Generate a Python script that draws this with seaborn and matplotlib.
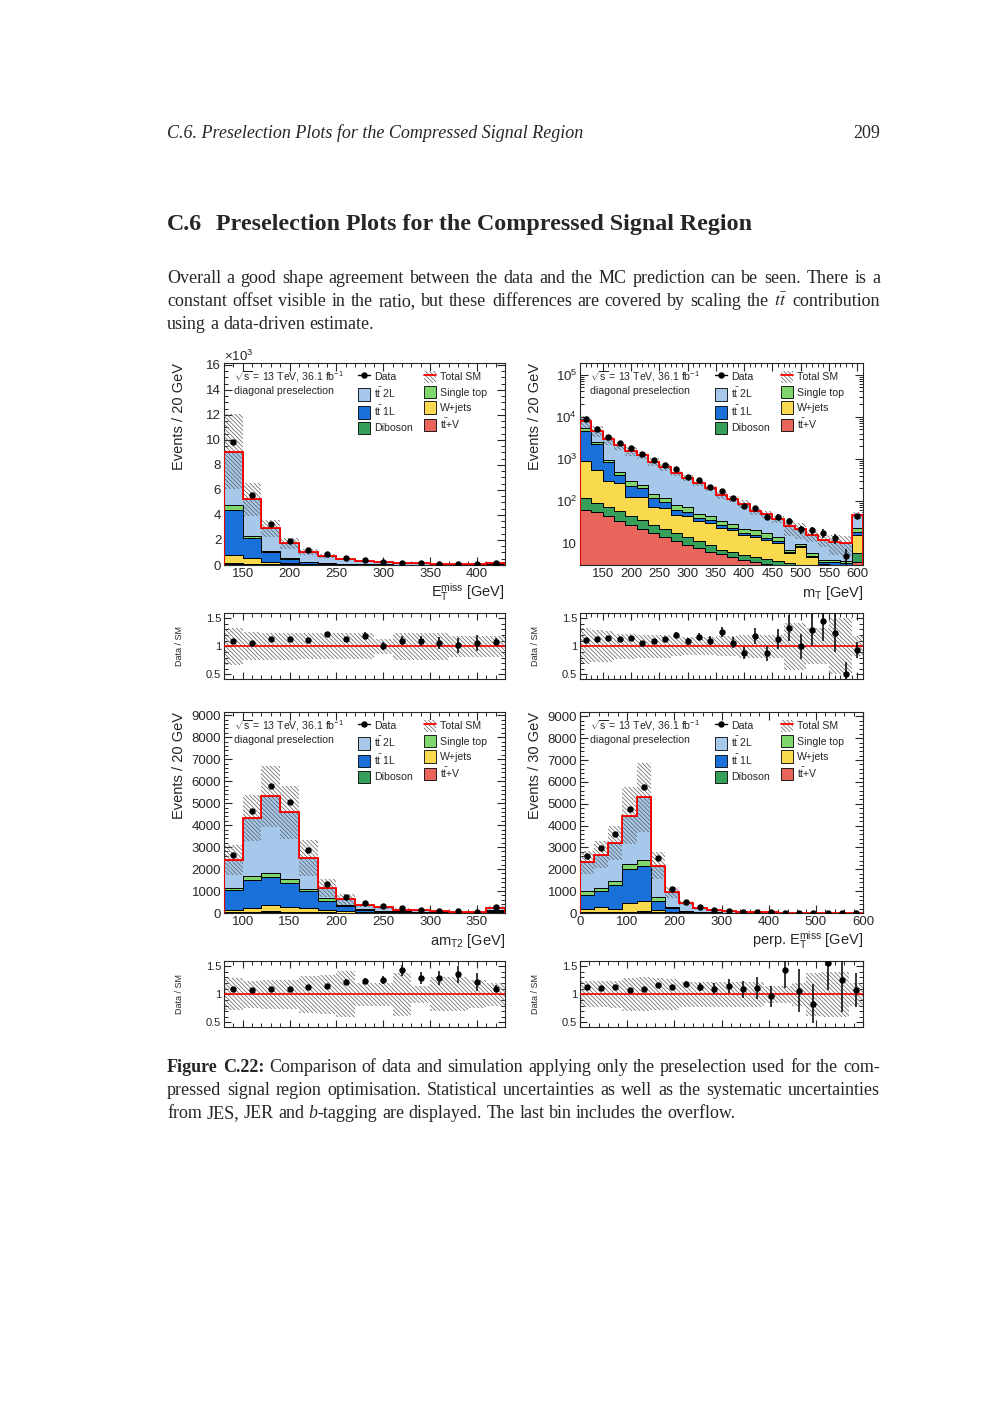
import numpy as np
import pandas as pd
import matplotlib
matplotlib.use("Agg")
import matplotlib.pyplot as plt
import seaborn as sns
from matplotlib.lines import Line2D
from matplotlib.patches import Patch
from matplotlib.transforms import IdentityTransform
from matplotlib.ticker import MultipleLocator, LogLocator, FuncFormatter, NullFormatter

# stack order: first entry on top (seaborn puts the last hue level at the bottom)
samples = ["ttbar2L", "singletop", "ttbar1L", "wjets", "diboson", "ttV"]
sample_labels = {
    "ttbar2L": r"$t\bar{t}$ 2L",
    "singletop": "Single top",
    "ttbar1L": r"$t\bar{t}$ 1L",
    "wjets": "W+jets",
    "diboson": "Diboson",
    "ttV": r"$t\bar{t}$+V",
}
sample_colors = {
    "ttbar2L": "#a6c8ea",
    "singletop": "#7fd66c",
    "ttbar1L": "#1870d8",
    "wjets": "#f9da4e",
    "diboson": "#36a05a",
    "ttV": "#e8655c",
}

# ---- E_T^miss ----
met_edges = np.arange(130, 431, 20)
met_data = [9865, 5565, 3300, 1944, 1187, 847, 538, 393, 222, 176, 131, 95, 61, 53, 194]
met_ttV = [40, 30, 20, 15, 10, 8, 6, 5, 4, 3, 3, 2, 2, 1, 5]
met_diboson = [80, 60, 40, 30, 20, 15, 10, 8, 6, 5, 4, 3, 2, 2, 8]
met_wjets = [700, 450, 160, 80, 50, 30, 20, 15, 10, 8, 6, 5, 4, 3, 12]
met_ttbar1L = [3600, 1600, 800, 350, 150, 80, 50, 30, 20, 12, 8, 6, 4, 3, 12]
met_singletop = [400, 150, 80, 50, 30, 20, 15, 10, 8, 6, 5, 4, 3, 2, 10]
met_ttbar2L = [4230, 2960, 1820, 1195, 800, 547, 379, 262, 172, 126, 94, 70, 45, 39, 133]
met_unc = [0.33, 0.25, 0.24, 0.24, 0.23, 0.23, 0.23, 0.23, 0.13, 0.24, 0.24, 0.24, 0.19, 0.19, 0.19]

# ---- m_T ----
mt_edges = np.arange(110, 611, 20)
mt_data = [8950, 5170, 3400, 2360, 1770, 1320, 950, 720, 566, 380, 316, 220, 173, 120,
           76, 69, 42, 42, 33, 21, 20, 17, 13, 5, 43]
mt_ttV = [62, 55, 45, 34, 27, 22, 17, 14, 11, 9, 7.5, 6.2, 5.4, 4.6, 4.0, 3.5, 3.1, 2.7,
          2.4, 2.1, 1.8, 1.6, 1.4, 1.2, 3.5]
mt_diboson = [58, 35, 27, 23, 17, 14, 10, 7, 6, 5, 3.5, 2.8, 1.6, 1.4, 1.2, 1.1, 1.1, 1.1,
              1.0, 0.9, 0.8, 0.8, 0.8, 0.8, 2.3]
mt_wjets = [770, 460, 218, 203, 82, 86, 46, 47, 30, 30, 22, 21, 16, 14, 10.3, 9.4, 7.8, 6.2,
            2.4, 5.2, 2.1, 0.8, 0.6, 0.6, 9.7]
mt_ttbar1L = [3810, 1750, 570, 160, 104, 78, 47, 27, 15, 12, 7, 5, 4, 3, 1.5, 1.5, 1, 1,
              0.4, 0.4, 0.3, 0.3, 0.7, 0.7, 3.1]
mt_singletop = [700, 200, 100, 70, 60, 45, 30, 23, 16, 14, 10, 8, 6, 5, 5, 4.5, 4, 3,
                0.8, 0.9, 0.8, 0.5, 0.4, 0.4, 4.4]
mt_ttbar2L = [2700, 2100, 2020, 1610, 1250, 1000, 715, 522, 392, 280, 220, 157, 105, 85,
              64, 38, 31, 23, 18, 11.5, 9.7, 7.7, 6.6, 6.3, 23]
mt_unc = [0.32, 0.28, 0.27, 0.22, 0.22, 0.2, 0.2, 0.2, 0.18, 0.16, 0.16, 0.16, 0.18, 0.18,
          0.2, 0.2, 0.2, 0.2, 0.42, 0.42, 0.32, 0.32, 0.5, 0.5, 0.18]

# ---- am_T2 ----
amt2_edges = np.arange(80, 381, 20)
amt2_data = [2650, 4640, 5790, 5040, 2850, 1300, 750, 444, 320, 215, 150, 107, 77, 61, 275]
amt2_ttV = [15, 25, 30, 25, 15, 8, 5, 3, 2, 2, 1, 1, 1, 1, 5]
amt2_diboson = [25, 35, 40, 35, 25, 15, 10, 7, 5, 4, 3, 2, 2, 2, 15]
amt2_wjets = [80, 185, 300, 230, 175, 117, 75, 50, 33, 24, 16, 12, 7, 5, 25]
amt2_ttbar1L = [940, 1275, 1280, 1090, 785, 410, 230, 90, 50, 25, 20, 13, 8, 7, 50]
amt2_singletop = [100, 150, 170, 170, 90, 120, 50, 30, 20, 15, 10, 8, 6, 5, 45]
amt2_ttbar2L = [1250, 2670, 3490, 3030, 1420, 470, 245, 180, 146, 81, 66, 47, 33, 30, 110]
amt2_unc = [0.28, 0.24, 0.26, 0.26, 0.33, 0.35, 0.41, 0.2, 0.2, 0.38, 0.15, 0.3, 0.3, 0.25, 0.2]

# ---- perp. E_T^miss ----
perp_edges = np.arange(0, 601, 30)
perp_data = [2615, 2985, 3615, 4770, 5770, 2520, 1077, 523, 260, 140, 80, 50, 35, 25,
             20, 8, 6, 10, 5, 13]
perp_ttV = [10, 12, 15, 25, 30, 10, 4, 2, 1, 0.6, 0.4, 0.3, 0.2, 0.2, 0.1, 0.1, 0.1, 0.1, 0.1, 0.3]
perp_diboson = [20, 22, 25, 35, 40, 15, 6, 3, 2, 1, 0.6, 0.4, 0.3, 0.2, 0.2, 0.2, 0.1, 0.1, 0.1, 0.3]
perp_wjets = [155, 226, 145, 400, 500, 115, 50, 25, 12, 6.4, 4, 2.3, 1.5, 1.1, 0.7, 0.7,
              0.6, 0.4, 0.3, 0.9]
perp_ttbar1L = [645, 725, 1075, 1570, 1570, 430, 170, 50, 25, 12, 7, 4, 3, 2.5, 1.5, 1,
                0.7, 0.6, 0.5, 1.5]
perp_singletop = [155, 165, 200, 230, 275, 150, 30, 15, 10, 6, 3, 2, 1, 1, 0.5, 0.5, 0.5,
                  0.3, 0.2, 1]
perp_ttbar2L = [1330, 1515, 1740, 2200, 2875, 1450, 690, 348, 179, 101, 55, 37, 25.5, 21,
                11, 5, 5.2, 4.9, 2.8, 8]
perp_unc = [0.23, 0.23, 0.24, 0.29, 0.3, 0.28, 0.27, 0.22, 0.22, 0.22, 0.22, 0.22, 0.22,
            0.15, 0.15, 0.2, 0.38, 0.4, 0.4, 0.2]

W, H = 1000, 1414
HATCH = "\\" * 8

sns.set_style("ticks")
plt.rcParams["font.family"] = ["Liberation Sans", "DejaVu Sans"]
plt.rcParams["mathtext.fontset"] = "custom"
plt.rcParams["mathtext.rm"] = "Liberation Sans"
plt.rcParams["mathtext.it"] = "Liberation Sans:italic"
plt.rcParams["mathtext.bf"] = "Liberation Sans:bold"
plt.rcParams["mathtext.default"] = "regular"
plt.rcParams["hatch.linewidth"] = 0.5
plt.rcParams["axes.linewidth"] = 0.8

fig = plt.figure(figsize=(10, 14.14), dpi=100)


def px_axes(x0, y0, x1, y1):
    return fig.add_axes([x0 / W, 1 - y1 / H, (x1 - x0) / W, (y1 - y0) / H])


def style_ticks(ax, xmaj, xmin):
    ax.xaxis.set_major_locator(MultipleLocator(xmaj))
    ax.xaxis.set_minor_locator(MultipleLocator(xmin))
    ax.tick_params(which="both", direction="in", top=True, right=True)
    ax.tick_params(which="major", length=6, width=0.8)
    ax.tick_params(which="minor", length=3, width=0.7)


def draw_panel(main_box, ratio_box, edges, comps, data, unc, xlim, ylim,
               xlabel, ylabel, xmaj, xmin, log=False, ymaj=1000, ymin=200, scale_k=False):
    ax = px_axes(*main_box)
    rax = px_axes(*ratio_box)
    edges = np.asarray(edges, float)
    centers = 0.5 * (edges[:-1] + edges[1:])
    data = np.asarray(data, float)
    unc = np.asarray(unc, float)

    long = pd.concat(
        [pd.DataFrame({"x": centers, "w": comps[s], "sample": s}) for s in samples],
        ignore_index=True,
    )
    sns.histplot(data=long, x="x", weights="w", hue="sample", hue_order=samples,
                 bins=list(edges), multiple="stack", element="step", fill=True,
                 palette=sample_colors, alpha=1, edgecolor="black", linewidth=0.7,
                 legend=False, ax=ax)
    total = np.sum([np.asarray(comps[s], float) for s in samples], axis=0)

    # uncertainty band and total
    lo = np.append(total * (1 - unc), total[-1] * (1 - unc[-1]))
    hi = np.append(total * (1 + unc), total[-1] * (1 + unc[-1]))
    ax.fill_between(edges, lo, hi, step="post", facecolor="none", edgecolor="0.35",
                    hatch=HATCH, linewidth=0, zorder=3)
    ax.stairs(total, edges, color="red", linewidth=1.3, zorder=4)
    ax.errorbar(centers, data, yerr=np.sqrt(data), fmt="o", color="black", ms=3.6,
                elinewidth=1.1, capsize=0, zorder=5)

    ax.set_xlim(*xlim)
    style_ticks(ax, xmaj, xmin)
    if log:
        ax.set_yscale("log")
        ax.yaxis.set_major_locator(LogLocator(base=10))
        ax.yaxis.set_minor_locator(LogLocator(base=10, subs=np.arange(2, 10)))
        ax.yaxis.set_minor_formatter(NullFormatter())
        ax.yaxis.set_major_formatter(FuncFormatter(
            lambda v, p: "10" if abs(v - 10) < 1e-6 else r"$10^{%d}$" % round(np.log10(v))))
    else:
        ax.yaxis.set_major_locator(MultipleLocator(ymaj))
        ax.yaxis.set_minor_locator(MultipleLocator(ymin))
        if scale_k:
            ax.yaxis.set_major_formatter(FuncFormatter(lambda v, p: "%d" % round(v / 1000)))
            ax.text(0, 1.01, r"$\times$10$^{3}$", transform=ax.transAxes, ha="left",
                    va="baseline", fontsize=9.5)
        else:
            ax.yaxis.set_major_formatter(FuncFormatter(lambda v, p: "%d" % round(v)))
    ax.set_ylim(*ylim)
    ax.tick_params(which="major", labelsize=9.5, pad=2)
    ax.set_xlabel("")
    ax.set_ylabel("")
    hgt = main_box[3] - main_box[1]
    ax.text(1.0, -32 / hgt, xlabel, transform=ax.transAxes, ha="right", va="baseline",
            fontsize=10.5)
    ax.text(-45 / (main_box[2] - main_box[0]), 1.0, ylabel, transform=ax.transAxes,
            rotation=90, ha="center", va="top", fontsize=10.5)

    ax.text(0.035, 0.931, r"$\sqrt{s}$ = 13 TeV, 36.1 fb$^{-1}$", transform=ax.transAxes,
            ha="left", va="center", fontsize=7.6)
    ax.text(0.035, 0.861, "diagonal preselection", transform=ax.transAxes,
            ha="left", va="center", fontsize=7.6)

    def box(s):
        return Patch(facecolor=sample_colors[s], edgecolor="black", linewidth=0.6)

    h_data = Line2D([], [], color="black", marker="o", ms=3.6, lw=1)
    h_tot = (Patch(facecolor="white", edgecolor="0.35", hatch=HATCH, linewidth=0),
             Line2D([], [], color="red", lw=1.3))
    handles = [h_data, box("ttbar2L"), box("ttbar1L"), box("diboson"),
               h_tot, box("singletop"), box("wjets"), box("ttV")]
    labels = ["Data", sample_labels["ttbar2L"], sample_labels["ttbar1L"], "Diboson",
              "Total SM", "Single top", "W+jets", sample_labels["ttV"]]
    ax.legend(handles, labels, ncol=2, loc="upper left", bbox_to_anchor=(0.477, 0.962),
              frameon=False, fontsize=7.6, handlelength=1.15, handleheight=1.4,
              handletextpad=0.35, labelspacing=0.3, columnspacing=1.1,
              borderpad=0, borderaxespad=0)

    # ratio panel
    ulo = np.append(1 - unc, 1 - unc[-1])
    uhi = np.append(1 + unc, 1 + unc[-1])
    rax.fill_between(edges, ulo, uhi, step="post", facecolor="none", edgecolor="0.35",
                     hatch=HATCH, linewidth=0, zorder=2)
    rax.axhline(1, color="red", lw=1.2, zorder=3)
    rax.errorbar(centers, data / total, yerr=np.sqrt(data) / total, fmt="o",
                 color="black", ms=3.6, elinewidth=1.1, capsize=0, zorder=5)
    rax.set_xlim(*xlim)
    rax.set_ylim(0.42, 1.59)
    style_ticks(rax, xmaj, xmin)
    rax.yaxis.set_major_locator(MultipleLocator(0.5))
    rax.yaxis.set_minor_locator(MultipleLocator(0.1))
    rax.yaxis.set_major_formatter(FuncFormatter(lambda v, p: "%g" % v))
    rax.tick_params(which="major", labelsize=8, pad=2, length=5)
    rax.tick_params(labelbottom=False)
    rax.text(-44 / (ratio_box[2] - ratio_box[0]), 0.5, "Data / SM", transform=rax.transAxes,
             rotation=90, ha="center", va="center", fontsize=6.5)


draw_panel((224, 363, 505, 565), (224, 613, 505, 679), met_edges,
           {"ttbar2L": met_ttbar2L, "singletop": met_singletop, "ttbar1L": met_ttbar1L,
            "wjets": met_wjets, "diboson": met_diboson, "ttV": met_ttV},
           met_data, met_unc, (130, 430), (0, 16150),
           r"E$_{\rm T}^{\rm miss}$ [GeV]", "Events / 20 GeV", 50, 10,
           ymaj=2000, ymin=500, scale_k=True)

draw_panel((580, 363, 863, 565), (580, 613, 863, 679), mt_edges,
           {"ttbar2L": mt_ttbar2L, "singletop": mt_singletop, "ttbar1L": mt_ttbar1L,
            "wjets": mt_wjets, "diboson": mt_diboson, "ttV": mt_ttV},
           mt_data, mt_unc, (110, 610), (3, 1.9e5),
           r"m$_{\rm T}$ [GeV]", "Events / 20 GeV", 50, 10, log=True)

draw_panel((224, 712, 505, 913), (224, 961, 505, 1027), amt2_edges,
           {"ttbar2L": amt2_ttbar2L, "singletop": amt2_singletop, "ttbar1L": amt2_ttbar1L,
            "wjets": amt2_wjets, "diboson": amt2_diboson, "ttV": amt2_ttV},
           amt2_data, amt2_unc, (80, 380), (0, 9150),
           r"am$_{\rm T2}$ [GeV]", "Events / 20 GeV", 50, 10)

draw_panel((580, 712, 863, 913), (580, 961, 863, 1027), perp_edges,
           {"ttbar2L": perp_ttbar2L, "singletop": perp_singletop, "ttbar1L": perp_ttbar1L,
            "wjets": perp_wjets, "diboson": perp_diboson, "ttV": perp_ttV},
           perp_data, perp_unc, (0, 600), (0, 9200),
           r"perp. E$_{\rm T}^{\rm miss}$ [GeV]", "Events / 30 GeV", 100, 20)

# ---- page text ----
SERIF = ["Liberation Serif", "DejaVu Serif"]
renderer = fig.canvas.get_renderer()
ident = IdentityTransform()


def words(s, **style):
    return [[(w, style)] for w in s.split()]


def text_line(y, line, size, justify=True, x0=167, x1=880, **base):
    placed = []
    for word in line:
        parts = []
        for seg, style in word:
            kw = dict(base)
            kw.update(style)
            t = fig.text(0, 0, seg, fontsize=size, family=SERIF, va="baseline",
                         ha="left", transform=ident, **kw)
            parts.append((t, t.get_window_extent(renderer).width))
        placed.append(parts)
    widths = [sum(w for _, w in p) for p in placed]
    if justify and len(placed) > 1:
        gap = (x1 - x0 - sum(widths)) / (len(placed) - 1)
    else:
        gap = size * 100 / 72 * 0.25
    x = x0
    for parts in placed:
        for t, w in parts:
            t.set_position((x, H - y))
            x += w
        x += gap


BOLD = {"weight": "bold"}
ttbar = r"$\mathit{t}\bar{\mathit{t}}$"

fig.text(167, H - 138, "C.6. Preselection Plots for the Compressed Signal Region",
         family=SERIF, style="italic", fontsize=13, transform=ident, va="baseline")
fig.text(880, H - 138, "209", family=SERIF, fontsize=13, transform=ident,
         va="baseline", ha="right")
fig.text(167, H - 230, "C.6", family=SERIF, weight="bold", fontsize=17.3,
         transform=ident, va="baseline")
fig.text(216, H - 230, "Preselection Plots for the Compressed Signal Region",
         family=SERIF, weight="bold", fontsize=17.3, transform=ident, va="baseline")

text_line(283, words("Overall a good shape agreement between the data and the MC "
                     "prediction can be seen. There is a"), 13)
text_line(306, words("constant offset visible in the ratio, but these differences are "
                     "covered by scaling the")
          + [[(ttbar, {"math_fontfamily": "stix"})]] + words("contribution"), 13)
text_line(329, words("using a data-driven estimate."), 13, justify=False)

text_line(1072, words("Figure C.22:", **BOLD)
          + words("Comparison of data and simulation applying only the preselection "
                  "used for the com-"), 13)
text_line(1095, words("pressed signal region optimisation. Statistical uncertainties as "
                      "well as the systematic uncertainties"), 13)
text_line(1118, words("from JES, JER and") + [[("b", {"style": "italic"}), ("-tagging", {})]]
          + words("are displayed. The last bin includes the overflow."), 13, justify=False)

fig.savefig("out.png", dpi=100)
